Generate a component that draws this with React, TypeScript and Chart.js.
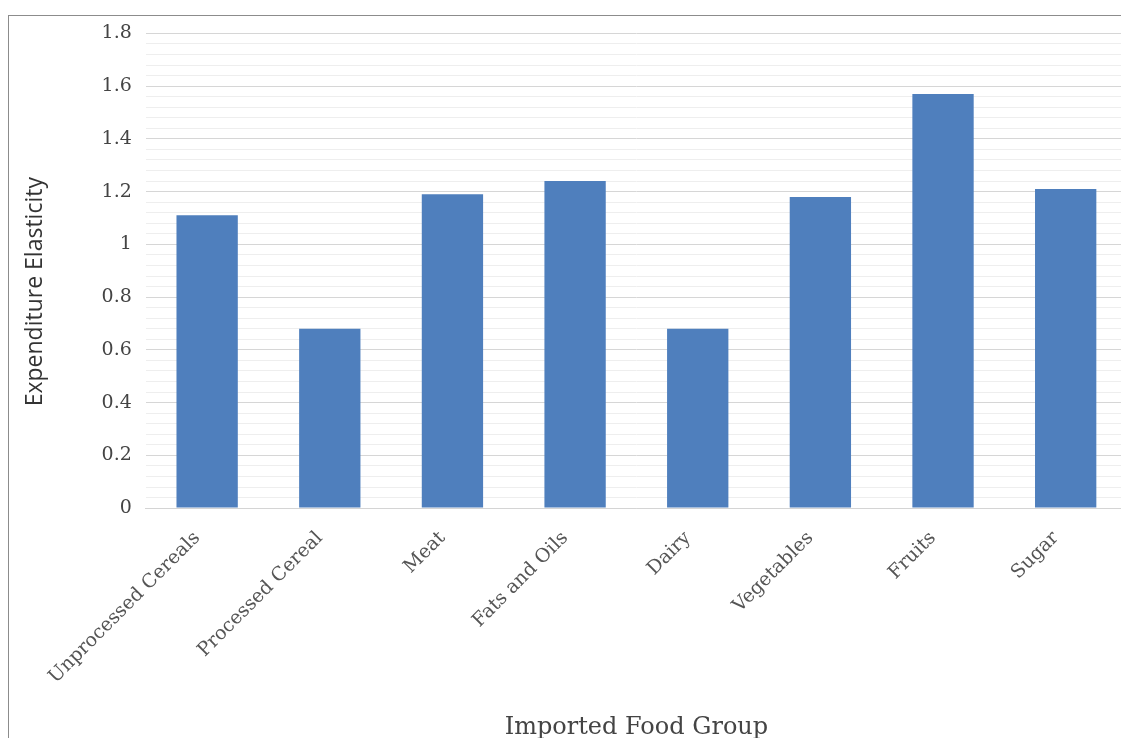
import React, { useEffect, useRef } from "react";
import { Chart, registerables } from "chart.js";

Chart.register(...registerables);

const categories: string[] = [
  "Unprocessed Cereals",
  "Processed Cereal",
  "Meat",
  "Fats and Oils",
  "Dairy",
  "Vegetables",
  "Fruits",
  "Sugar",
];

const elasticity: number[] = [1.11, 0.68, 1.19, 1.24, 0.68, 1.18, 1.57, 1.21];

const yMin = 0;
const yMax = 1.8;
const majorStep = 0.2;
const minorStep = 0.04;

const isMajor = (v: number) => Math.abs(v / majorStep - Math.round(v / majorStep)) < 1e-6;

export default function App() {
  const canvasRef = useRef<HTMLCanvasElement | null>(null);

  useEffect(() => {
    if (!canvasRef.current) return;
    const chart = new Chart(canvasRef.current, {
      type: "bar",
      data: {
        labels: categories,
        datasets: [
          {
            label: "Expenditure Elasticity",
            data: elasticity,
            backgroundColor: "#4f7fbd",
            borderWidth: 0,
            barPercentage: 0.5,
            categoryPercentage: 1,
          },
        ],
      },
      options: {
        animation: false,
        responsive: false,
        layout: { padding: { left: 8, top: 0, right: 12, bottom: 0 } },
        plugins: {
          legend: { display: false },
          tooltip: { enabled: false },
        },
        scales: {
          x: {
            grid: { display: false, drawTicks: false },
            border: { display: true, color: "#d4d4d4" },
            ticks: {
              autoSkip: false,
              minRotation: 45,
              maxRotation: 45,
              padding: 19,
              labelOffset: -10,
              color: "#555555",
              font: { family: "DejaVu Serif", size: 19 },
            },
            title: {
              display: true,
              text: "Imported Food Group",
              color: "#444444",
              font: { family: "DejaVu Serif", size: 24 },
              padding: { top: 6, bottom: 2 },
            },
          },
          y: {
            min: yMin,
            max: yMax,
            border: { display: false },
            grid: {
              drawTicks: false,
              color: (ctx: any) =>
                ctx.tick && isMajor(ctx.tick.value) ? "#d6d6d6" : "#eeeeee",
              lineWidth: 1,
            },
            ticks: {
              stepSize: minorStep,
              autoSkip: false,
              padding: 14,
              color: "#444444",
              font: { family: "DejaVu Serif", size: 19 },
              callback: (value: any) => {
                const v = Number(value);
                return isMajor(v) ? String(Math.round(v * 10) / 10) : "";
              },
            },
            title: {
              display: true,
              text: "Expenditure Elasticity       ",
              color: "#333333",
              font: { family: "Open Sans", size: 23 },
              padding: { top: 5, bottom: 38 },
            },
          },
        },
      },
    });
    return () => chart.destroy();
  }, []);

  return (
    <div style={{ position: "fixed", left: 0, top: 0, width: 1121, height: 738, overflow: "hidden", background: "#ffffff" }}>
      <div
        style={{
          position: "absolute",
          left: 8,
          top: 15,
          width: 1140,
          height: 740,
          borderLeft: "1px solid #8c8c8c",
          borderTop: "1px solid #8c8c8c",
        }}
      />
      <canvas
        ref={canvasRef}
        width={1130}
        height={736}
        style={{ position: "absolute", left: 9, top: 8, display: "block" }}
      />
    </div>
  );
}
